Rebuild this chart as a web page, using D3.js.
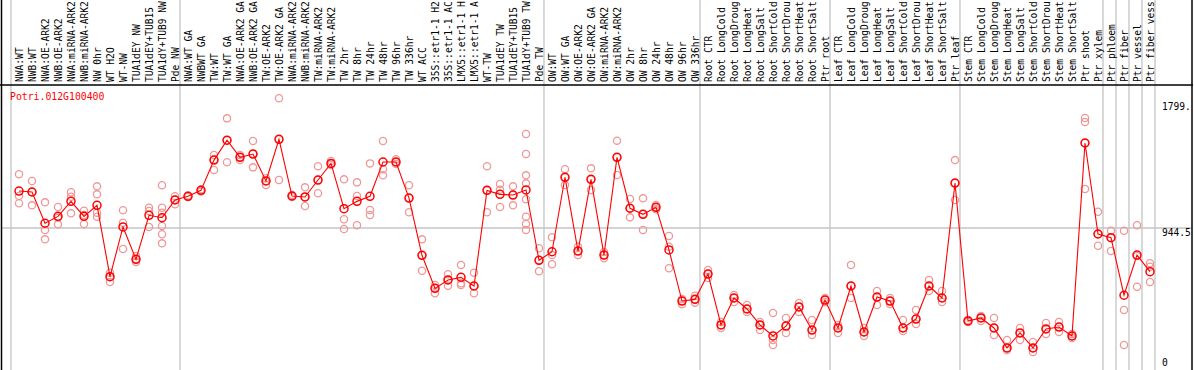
<!DOCTYPE html>
<html><head><meta charset="utf-8">
<script src="https://cdn.jsdelivr.net/npm/d3@7/dist/d3.min.js"></script>
<style>
html,body{margin:0;padding:0;background:#fff;}
svg{display:block;}
text{font-family:"DejaVu Sans Mono","Liberation Mono",monospace;}
</style></head>
<body>
<svg id="chart" width="1194" height="370"></svg>
<script>
const title = "Potri.012G100400";
const categories = ["NWA:WT","NWB:WT","NWA:OE-ARK2","NWB:OE-ARK2","NWA:miRNA-ARK2","NWB:miRNA-ARK2","NW 0hr","WT H2O","WT-NW","TUA1dEY NW","TUA1dEY+TUB15","TUA1dY+TUB9 NW","Pde NW",
"NWA:WT GA","NWBWT GA","TW:WT","TW:WT GA","NWA:OE-ARK2 GA","NWB:OE-ARK2 GA","TW:OE-ARK2","TW:OE-ARK2 GA","NWA:miRNA-ARK2","NWB:miRNA-ARK2","TW:miRNA-ARK2","TW:miRNA-ARK2","TW 2hr","TW 8hr","TW 24hr","TW 48hr","TW 96hr","TW 336hr","WT ACC","35S::etr1-1 H2","35S::etr1-1 AC","LMX5::etr1-1 H","LMX5::etr1-1 A","WT-TW","TUA1dEY TW","TUA1dEY+TUB15","TUA1dY+TUB9 TW","Pde TW",
"OW:WT","OW:WT GA","OW:OE-ARK2","OW:OE-ARK2 GA","OW:miRNA-ARK2","OW:miRNA-ARK2","OW 2hr","OW 8hr","OW 24hr","OW 48hr","OW 96hr","OW 336hr",
"Root CTR","Root LongCold","Root LongDroug","Root LongHeat","Root LongSalt","Root ShortCold","Root ShortDrou","Root ShortHeat","Root ShortSalt","Ptr root",
"Leaf CTR","Leaf LongCold","Leaf LongDroug","Leaf LongHeat","Leaf LongSalt","Leaf ShortCold","Leaf ShortDrou","Leaf ShortHeat","Leaf ShortSalt","Ptr leaf",
"Stem CTR","Stem LongCold","Stem LongDroug","Stem LongHeat","Stem LongSalt","Stem ShortCold","Stem ShortDrou","Stem ShortHeat","Stem ShortSalt","Ptr shoot","Ptr xylem",
"Ptr phloem","Ptr fiber","Ptr vessel","Ptr fiber vess"];
// column indices where a separator line is drawn on the left side
const separatorsBefore = [0,13,41,53,63,73,84,85,86,87,88];
const means = [1213,1206,979,1029,1138,1029,1109,591,952,717,1037,1019,1148,
1175,1218,1438,1582,1458,1482,1286,1589,1177,1170,1293,1414,1085,1138,1175,1424,1424,1162,746,506,567,586,523,1218,1189,1184,1221,710,
772,1313,777,1298,748,1458,1088,1044,1095,785,414,426,
610,240,436,356,240,160,232,371,203,421,
218,523,189,443,414,218,283,523,436,1271,
269,291,218,73,182,73,211,225,160,1562,901,
874,456,748,627];
const replicates = [[1335,1177,1124],[1286,1206,1109],[1131,930,862],[1097,1020,971],[1204,1172,1051],[1070,1039,974],[1247,1189,1056,1027],[620,591,552],[1073,983,792],[741,719,697],[1092,1068,952],[1255,1092,1056,959,899,833],[1175,1150,1117],
[1170,1180,1175],[1210,1225,1220],[1475,1440,1366],[1741,1582,1422],[1475,1458,1438],[1577,1482,1385],[1306,1286,1257],[1887,1589,1293],[1170,1185,1177],[1240,1170,1104],[1393,1293,1197],[1431,1414,1402],[1298,1008,937],[1276,1177,964],[1414,1075,1039],[1577,1371,1327],[1444,1424,1409],[1255,1162,1059],[862,746,634],[530,509,470],[608,567,525],[676,543,530],[620,523,470],[1393,1218,1059],[1264,1223,1097],[1247,1184,1109],[1627,1482,1327,1269,1153,1027,974,930],[797,712,630],
[877,748,681],[1371,1313,1257],[809,777,748],[1378,1298,1221],[770,748,724],[1579,1458,1330],[1155,1088,1022],[1160,1046,930],[1112,1095,1080],[886,809,652],[429,414,390],[453,426,402],
[639,610,581],[262,240,218],[458,436,407],[385,356,334],[262,240,203],[327,131,94],[291,232,182],[400,371,334],[276,203,167],[436,421,407],
[240,218,182],[676,523,436],[218,189,160],[487,443,385],[436,414,392],[276,218,196],[349,283,247],[567,523,487],[487,436,407],[1438,1271,1148],
[276,269,262],[305,291,269],[291,218,167],[131,73,58],[218,182,131],[116,73,44],[254,211,174],[262,225,189],[174,160,145],[1744,1715,1562,1228],[1063,901,816],
[925,874,777],[925,349,94],[964,741,518],[688,663,552]];
const yTickValues = [0, 944.5, 1799];
const yTickLabels = ["0", "944.5", "1799."];
const yMax = 1889;

const W = 1194, H = 370;
const svg = d3.select("#chart");
const x = d3.scaleBand().domain(d3.range(categories.length)).range([11, 1155]).padding(0);
const y = d3.scaleLinear().domain([0, yMax]).range([358, 98]);
const cx = i => x(i) + 8;

// separators
const sepX = i => i < categories.length ? x(i) : x(categories.length - 1) + x.bandwidth();
svg.append("g").selectAll("line").data(separatorsBefore).join("line")
  .attr("x1", d => sepX(d)).attr("x2", d => sepX(d))
  .attr("y1", 0).attr("y2", H)
  .attr("stroke", "#c4c4c4").attr("stroke-width", 1.3);

// mid grid line
svg.append("line").attr("x1", 2).attr("x2", 1192)
  .attr("y1", y(944.5)).attr("y2", y(944.5))
  .attr("stroke", "#c4c4c4").attr("stroke-width", 1.3);

// frame
svg.append("line").attr("x1", 0).attr("x2", 1193).attr("y1", 85).attr("y2", 85).attr("stroke", "#000").attr("stroke-width", 1.5);
svg.append("line").attr("x1", 1.5).attr("x2", 1.5).attr("y1", 0).attr("y2", H).attr("stroke", "#000").attr("stroke-width", 1.5);
svg.append("line").attr("x1", 1192).attr("x2", 1192).attr("y1", 0).attr("y2", H).attr("stroke", "#000").attr("stroke-width", 1.5);

// category labels
svg.append("g").selectAll("text").data(categories).join("text")
  .attr("transform", (d, i) => `translate(${cx(i)},82) rotate(-90)`)
  .attr("dominant-baseline", "central")
  .attr("font-size", "9.6px").attr("fill", "#000")
  .text(d => d);

// y axis labels
const yAxis = d3.axisRight(y).tickValues(yTickValues)
  .tickFormat((d, i) => yTickLabels[i]).tickSize(0);
const ag = svg.append("g").attr("transform", "translate(1162,0)").call(yAxis);
ag.select(".domain").remove();
ag.selectAll("text").attr("font-family", "DejaVu Sans Mono, monospace").attr("font-size", "9.6px")
  .attr("fill", "#000").attr("x", 0)
  .attr("dy", d => d === 1799 ? "-0.05em" : "0.75em");

// title
svg.append("text").attr("x", 10).attr("y", 100).attr("fill", "#ff0000")
  .attr("font-size", "9.8px").text(title);

// replicate points
const reps = [];
replicates.forEach((arr, i) => arr.forEach(v => reps.push({i, v})));
svg.append("g").selectAll("circle").data(reps).join("circle")
  .attr("cx", d => cx(d.i)).attr("cy", d => y(d.v)).attr("r", 3.6)
  .attr("fill", "none").attr("stroke", "#ef9898").attr("stroke-width", 1.3);

// mean line
svg.append("path").datum(means)
  .attr("d", d3.line().x((d, i) => cx(i)).y(d => y(d)))
  .attr("fill", "none").attr("stroke", "#ff0000").attr("stroke-width", 1.1);

svg.append("g").selectAll("circle").data(means).join("circle")
  .attr("cx", (d, i) => cx(i)).attr("cy", d => y(d)).attr("r", 4)
  .attr("fill", "none").attr("stroke", "#ff0000").attr("stroke-width", 1.5);
</script>
</body></html>
